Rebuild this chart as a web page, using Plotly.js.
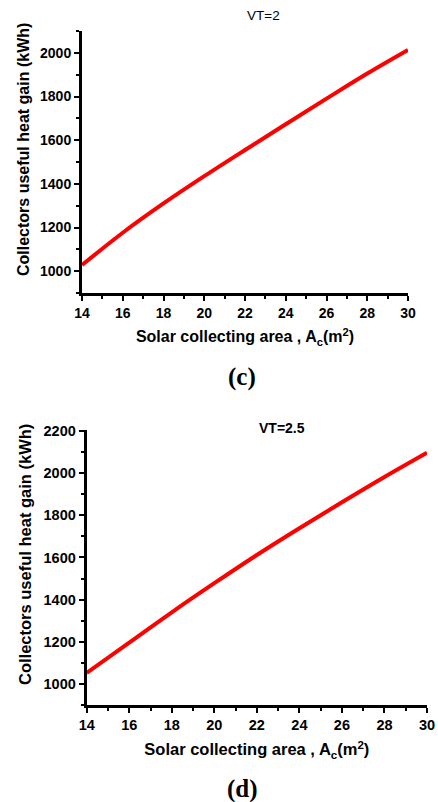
<!DOCTYPE html>
<html>
<head>
<meta charset="utf-8">
<script src="https://cdn.plot.ly/plotly-3.0.1.min.js"></script>
<style>
  html, body { margin: 0; padding: 0; background: #ffffff; }
  #chart { width: 438px; height: 802px; }
</style>
</head>
<body>
<div id="chart"></div>
<script>
// Solar collecting area (m²)
const area = [14, 16, 18, 20, 22, 24, 26, 28, 30];
// Collectors useful heat gain (kWh) for two VT values
const gainVT2 = [1028, 1176, 1310, 1435, 1555, 1673, 1790, 1905, 2013];
const gainVT25 = [1052, 1196, 1340, 1478, 1612, 1739, 1862, 1982, 2097];
const xTicks = [14, 16, 18, 20, 22, 24, 26, 28, 30];
const yTicksC = [1000, 1200, 1400, 1600, 1800, 2000];
const yTicksD = [1000, 1200, 1400, 1600, 1800, 2000, 2200];

const SANS = 'Liberation Sans, Arial, sans-serif';
const SERIF = 'Liberation Serif, Times New Roman, serif';
const Y_TITLE = 'Collectors useful heat gain (kWh)';

function xAxis(domain, anchor, size, titleSize, standoff) {
  return {
    domain: domain, anchor: anchor, range: [14, 30],
    tickvals: xTicks, ticktext: xTicks.map(String),
    ticks: 'outside', ticklen: 5, tickwidth: 2, tickcolor: '#000',
    minor: { dtick: 1, tick0: 14, ticks: 'outside', ticklen: 3, tickwidth: 2, tickcolor: '#000' },
    showline: true, linecolor: '#000', linewidth: 3, mirror: false,
    showgrid: false, zeroline: false,
    tickfont: { family: SANS, size: size, color: '#000', weight: 700 },
    title: { text: 'Solar collecting area , A<sub>c</sub>(m<sup>2</sup>)',
             font: { family: SANS, size: titleSize, color: '#000', weight: 700 },
             standoff: standoff }
  };
}

function yAxis(domain, anchor, range, ticks, size) {
  return {
    domain: domain, anchor: anchor, range: range,
    tickvals: ticks, ticktext: ticks.map(String),
    ticks: 'outside', ticklen: 5, tickwidth: 2, tickcolor: '#000',
    minor: { dtick: 100, tick0: 1000, ticks: 'outside', ticklen: 3, tickwidth: 2, tickcolor: '#000' },
    showline: true, linecolor: '#000', linewidth: 3, mirror: false,
    showgrid: false, zeroline: false,
    tickfont: { family: SANS, size: size, color: '#000', weight: 700 }
  };
}

// paper-coordinate label helper (positions given in pixels of the 438x802 page)
function label(text, px, py, font, angle) {
  return {
    text: text, xref: 'paper', yref: 'paper', x: px / 438, y: 1 - py / 802,
    xanchor: 'center', yanchor: 'middle', showarrow: false,
    textangle: angle || 0, font: font
  };
}

const traces = [
  { x: area, y: gainVT2, xaxis: 'x', yaxis: 'y', type: 'scatter', mode: 'lines',
    line: { color: '#ff0000', width: 4, shape: 'spline' }, name: 'VT=2' },
  { x: area, y: gainVT25, xaxis: 'x2', yaxis: 'y2', type: 'scatter', mode: 'lines',
    line: { color: '#ff0000', width: 4, shape: 'spline' }, name: 'VT=2.5' }
];

const layout = {
  width: 438, height: 802,
  margin: { l: 0, r: 0, t: 0, b: 0 },
  paper_bgcolor: '#ffffff', plot_bgcolor: '#ffffff',
  showlegend: false,
  xaxis: xAxis([82 / 438, 408 / 438], 'y', 14, 16, 12),
  yaxis: yAxis([1 - 293 / 802, 1 - 31 / 802], 'x', [900, 2100], yTicksC, 14),
  xaxis2: xAxis([86.7 / 438, 427 / 438], 'y2', 14.5, 16.5, 12),
  yaxis2: yAxis([1 - 705 / 802, 1 - 430 / 802], 'x2', [900, 2205], yTicksD, 14.5),
  annotations: [
    label(Y_TITLE, 23, 150, { family: SANS, size: 16, color: '#000', weight: 700 }, -90),
    label(Y_TITLE, 25, 555, { family: SANS, size: 16.5, color: '#000', weight: 700 }, -90),
    label('VT=2', 263, 16, { family: SANS, size: 13.5, color: '#000' }),
    label('VT=2.5', 282, 428, { family: SANS, size: 14, color: '#000', weight: 700 }),
    label('(c)', 242, 377, { family: SERIF, size: 25, color: '#000', weight: 700 }),
    label('(d)', 242, 789, { family: SERIF, size: 25, color: '#000', weight: 700 })
  ]
};

Plotly.newPlot('chart', traces, layout, { displayModeBar: false, staticPlot: true });
</script>
</body>
</html>
